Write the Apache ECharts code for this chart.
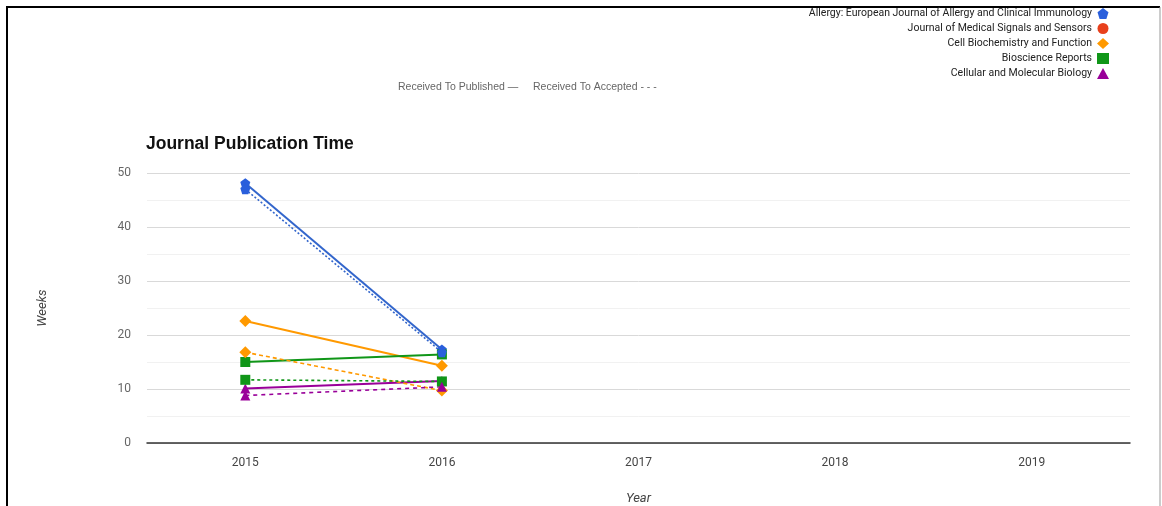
<!DOCTYPE html>
<html><head><meta charset="utf-8">
<script src="https://cdn.jsdelivr.net/npm/echarts@6/dist/echarts.min.js"></script>
<style>html,body{margin:0;padding:0;background:#fff}#c{width:1162px;height:506px}</style>
</head><body><div id="c"></div>
<script>
const years = ['2015','2016','2017','2018','2019'];
const journals = ['Allergy: European Journal of Allergy and Clinical Immunology','Journal of Medical Signals and Sensors','Cell Biochemistry and Function','Bioscience Reports','Cellular and Molecular Biology'];
const colors = ['#3366cc','#dc3912','#ff9900','#109618','#990099'];
const markerColors = ['#2a5fdc','#e8401c','#ff9900','#109618','#990099'];
const symbols = ['path://M50,0 L100,38 L81,100 L19,100 L0,38 Z','circle','diamond','rect','triangle'];
const publishedVals = [
  [48.1, 17.3, null, null, null],
  [null, null, null, null, null],
  [22.6, 14.3, null, null, null],
  [15.0, 16.4, null, null, null],
  [10.1, 11.5, null, null, null]
];
const acceptedVals = [
  [47.0, 16.8, null, null, null],
  [null, null, null, null, null],
  [16.8, 9.7, null, null, null],
  [11.7, 11.4, null, null, null],
  [8.8, 10.4, null, null, null]
];
const acceptedDash = [[2,2],[4,3],[4,3],[3,3],[4,4]];

const series = [];
journals.forEach((j,i)=>{
  series.push({name:j,type:'line',data:publishedVals[i],symbol:symbols[i],symbolSize:i===2?12:10,
    itemStyle:{color:markerColors[i]},lineStyle:{color:colors[i],width:2}});
});
journals.forEach((j,i)=>{
  series.push({name:j,type:'line',data:acceptedVals[i],symbol:symbols[i],symbolSize:i===2?12:10,
    itemStyle:{color:markerColors[i]},lineStyle:{color:colors[i],width:1.6,type:acceptedDash[i]}});
});

const chart = echarts.init(document.getElementById('c'));
chart.setOption({
  animation:false,
  backgroundColor:'#fff',
  textStyle:{fontFamily:'Roboto, Arial, sans-serif'},
  title:{text:'Journal Publication Time',left:141,top:130,textStyle:{fontSize:17.5,fontWeight:'bold',color:'#111',fontFamily:'Arial, Liberation Sans, sans-serif'}},
  legend:{data:journals.map((j,i)=>({name:j,icon:symbols[i],itemStyle:{color:markerColors[i]}})),
    orient:'vertical',right:48,top:3,align:'right',itemGap:4,itemWidth:12,itemHeight:11,
    textStyle:{fontSize:10.5,color:'#222'}},
  grid:{left:147,right:32,top:173,bottom:63,outerBoundsMode:'none',containLabel:false},
  xAxis:{type:'category',data:years,boundaryGap:true,
    name:'Year',nameLocation:'middle',nameGap:49,nameTextStyle:{fontStyle:'italic',fontSize:13,color:'#444'},
    axisLine:{lineStyle:{color:'#333',width:1.5}},axisTick:{show:false},
    axisLabel:{color:'#444',fontSize:12,margin:14}},
  yAxis:{type:'value',min:0,max:50,interval:10,
    name:'Weeks',nameLocation:'middle',nameGap:98,nameRotate:90,nameTextStyle:{fontStyle:'italic',fontSize:13,color:'#444'},
    axisLine:{show:false},axisTick:{show:false},
    axisLabel:{color:'#666',fontSize:12,margin:16},
    splitLine:{lineStyle:{color:'#d9d9d9',width:1}},
    minorTick:{show:false,splitNumber:2},
    minorSplitLine:{show:true,lineStyle:{color:'#f1f1f1'}}},
  graphic:[
    {type:'text',left:398,top:82,style:{text:'Received To Published \u2014',fontSize:10.5,fill:'#666'}},
    {type:'text',left:533,top:82,style:{text:'Received To Accepted - - -',fontSize:10.5,fill:'#666'}},
    {type:'line',shape:{x1:7,y1:7,x2:1160,y2:7},style:{stroke:'#000',lineWidth:2}},
    {type:'line',shape:{x1:7,y1:6,x2:7,y2:506},style:{stroke:'#000',lineWidth:2}},
    {type:'line',shape:{x1:1160,y1:7,x2:1160,y2:506},style:{stroke:'#999',lineWidth:1}}
  ],
  series:series
});
</script></body></html>
